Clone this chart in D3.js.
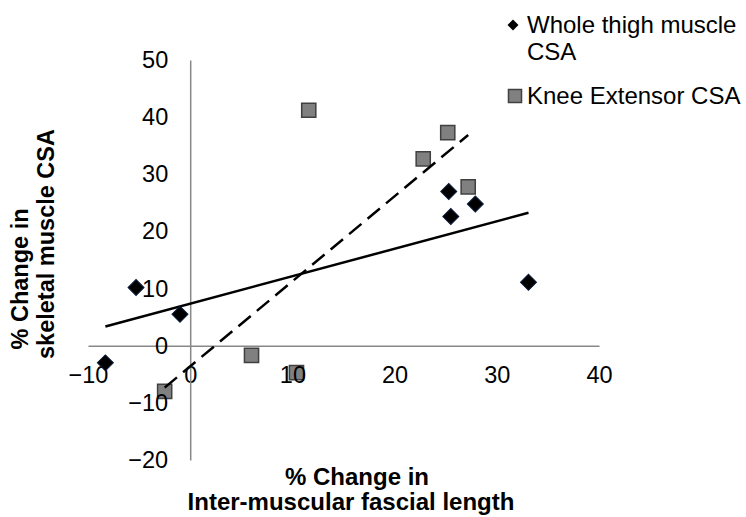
<!DOCTYPE html>
<html>
<head>
<meta charset="utf-8">
<script src="https://cdn.jsdelivr.net/npm/d3@7"></script>
<style>
  html, body { margin: 0; padding: 0; background: #fff; }
  svg { display: block; font-family: "Liberation Sans", Arial, sans-serif; }
</style>
</head>
<body>
<svg id="chart" width="746" height="517"></svg>
<script>
// ---- data ----
const seriesNames = ["Whole thigh muscle CSA", "Knee Extensor CSA"];
const wholeThighX = [-8.3, -5.3, -1.0, 25.3, 25.5, 27.9, 33.1];
const wholeThighY = [-3.0, 10.2, 5.5, 27.0, 22.6, 24.8, 11.1];
const kneeExtX = [-2.5, 6.0, 10.4, 11.6, 22.8, 25.2, 27.2];
const kneeExtY = [-8.0, -1.7, -4.7, 41.2, 32.7, 37.3, 27.8];
const xTicks = [-10, 0, 10, 20, 30, 40];
const yTicks = [-20, -10, 0, 10, 20, 30, 40, 50];
const xTitle = ["% Change in", "Inter-muscular fascial length"];
const yTitle = ["% Change in", "skeletal muscle CSA"];

const svg = d3.select("#chart");
const x = d3.scaleLinear().domain([-10, 40]).range([88, 599]);
const y = d3.scaleLinear().domain([-20, 50]).range([460, 60]);

// linear regression trend lines
function fit(xs, ys) {
  const n = xs.length, mx = d3.mean(xs), my = d3.mean(ys);
  let sxy = 0, sxx = 0;
  for (let i = 0; i < n; i++) { sxy += (xs[i]-mx)*(ys[i]-my); sxx += (xs[i]-mx)**2; }
  const b = sxy / sxx, a = my - b*mx;
  const x0 = d3.min(xs), x1 = d3.max(xs);
  return [[x0, a + b*x0], [x1, a + b*x1]];
}

// square markers (drawn under axes labels)
const square = d3.symbol().type(d3.symbolSquare).size(200);
svg.append("g").selectAll("path").data(kneeExtX.map((v, i) => [v, kneeExtY[i]]))
  .join("path").attr("d", square)
  .attr("transform", d => `translate(${x(d[0])},${y(d[1])})`)
  .attr("fill", "#808080").attr("stroke", "#404040").attr("stroke-width", 1.5);

// axes crossing at 0
const xAxis = svg.append("g")
  .attr("transform", `translate(0,${y(0)})`)
  .call(d3.axisBottom(x).tickValues(xTicks).tickSize(0).tickSizeOuter(0).tickPadding(21));
const yAxis = svg.append("g")
  .attr("transform", `translate(${x(0)},0)`)
  .call(d3.axisLeft(y).tickValues(yTicks).tickSize(0).tickSizeOuter(0).tickPadding(22));
[xAxis, yAxis].forEach(a => {
  a.select(".domain").attr("stroke", "#888").attr("stroke-width", 1.5);
  a.selectAll("text").attr("font-size", 23.5).attr("fill", "#000")
    .attr("font-family", "'Liberation Sans', Arial, sans-serif");
});

const line = d3.line().x(d => x(d[0])).y(d => y(d[1]));
svg.append("path").attr("d", line(fit(wholeThighX, wholeThighY)))
  .attr("fill", "none").attr("stroke", "#000").attr("stroke-width", 2.5);
svg.append("path").attr("d", line(fit(kneeExtX, kneeExtY)))
  .attr("fill", "none").attr("stroke", "#000").attr("stroke-width", 2.5)
  .attr("stroke-dasharray", "16,8");

// diamond markers
const diamond = d3.symbol().type(d3.symbolSquare).size(128);
svg.append("g").selectAll("path").data(wholeThighX.map((v, i) => [v, wholeThighY[i]]))
  .join("path").attr("d", diamond)
  .attr("transform", d => `translate(${x(d[0])},${y(d[1])}) rotate(45)`)
  .attr("fill", "#000").attr("stroke", "#0a1a3a").attr("stroke-width", 1);

// legend
const lg = svg.append("g").attr("font-size", 24).attr("fill", "#000");
lg.append("path").attr("d", d3.symbol().type(d3.symbolSquare).size(60))
  .attr("transform", "translate(513,25) rotate(45)").attr("fill", "#000");
lg.append("text").attr("x", 527).attr("y", 33).text("Whole thigh muscle");
lg.append("text").attr("x", 527).attr("y", 60).text("CSA");
lg.append("path").attr("d", d3.symbol().type(d3.symbolSquare).size(170))
  .attr("transform", "translate(515,96)").attr("fill", "#808080")
  .attr("stroke", "#404040").attr("stroke-width", 1.5);
lg.append("text").attr("x", 527).attr("y", 104).text(seriesNames[1]);

// axis titles
const xt = svg.append("g").attr("font-size", 24).attr("font-weight", "bold").attr("text-anchor", "middle");
xt.append("text").attr("x", 357).attr("y", 485).text(xTitle[0]);
xt.append("text").attr("x", 351).attr("y", 510).text(xTitle[1]);
const yt = svg.append("g").attr("font-size", 23.5).attr("font-weight", "bold").attr("text-anchor", "middle");
yt.append("text").attr("transform", "translate(28,279) rotate(-90)").text(yTitle[0]);
yt.append("text").attr("transform", "translate(54,244) rotate(-90)").text(yTitle[1]);
</script>
</body>
</html>
